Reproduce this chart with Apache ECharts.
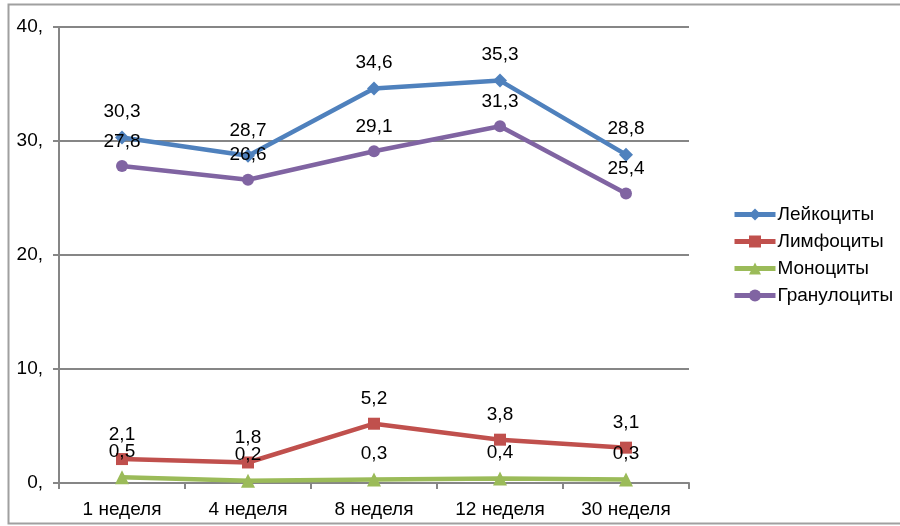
<!DOCTYPE html>
<html>
<head>
<meta charset="utf-8">
<style>
  html, body { margin: 0; padding: 0; background: #fff; }
  #chart { width: 900px; height: 526px; }
</style>
<script src="https://cdn.jsdelivr.net/npm/echarts@6/dist/echarts.min.js"></script>
</head>
<body>
<div id="chart"></div>
<script>
// Categories: weeks of observation
const categories = ['1 неделя', '4 неделя', '8 неделя', '12 неделя', '30 неделя'];

// Series values
const leukocytes = [30.3, 28.7, 34.6, 35.3, 28.8];
const lymphocytes = [2.1, 1.8, 5.2, 3.8, 3.1];
const monocytes = [0.5, 0.2, 0.3, 0.4, 0.3];
const granulocytes = [27.8, 26.6, 29.1, 31.3, 25.4];

// Series names
const seriesNames = ['Лейкоциты', 'Лимфоциты', 'Моноциты', 'Гранулоциты'];

// Y axis range
const yMin = 0, yMax = 40, yStep = 10;

const FONT = '"Liberation Sans", Arial, sans-serif';
const FS = 19;
const colors = ['#4F81BD', '#C0504D', '#9BBB59', '#8064A2'];
const symbols = ['diamond', 'rect', 'triangle', 'circle'];
const symbolSizes = [14, 12, 14, 12];
const dataSets = [leukocytes, lymphocytes, monocytes, granulocytes];

const fmt = v => String(v).replace('.', ',');

const chart = echarts.init(document.getElementById('chart'), null, { renderer: 'canvas' });

chart.setOption({
  animation: false,
  backgroundColor: '#fff',
  textStyle: { fontFamily: FONT },
  graphic: [{
    type: 'rect',
    shape: { x: 8.5, y: 4.5, width: 1000, height: 519 },
    style: { fill: 'none', stroke: '#a0a0a0', lineWidth: 2 },
    silent: true, z: -1
  }],
  grid: { left: 59, top: 27, width: 630, height: 456, containLabel: false },
  legend: {
    orient: 'vertical',
    left: 727,
    top: 200,
    itemGap: 8,
    itemWidth: 41,
    itemHeight: 15,
    lineStyle: { width: 5 },
    textStyle: { fontFamily: FONT, fontSize: FS, color: '#000', padding: [0, 0, 0, -3] },
    data: seriesNames
  },
  xAxis: {
    type: 'category',
    data: categories,
    boundaryGap: true,
    axisLine: { lineStyle: { color: '#868686', width: 2 } },
    axisTick: { show: true, alignWithLabel: false, length: 6, lineStyle: { color: '#868686', width: 2 } },
    axisLabel: { color: '#000', fontSize: FS, fontFamily: FONT, margin: 17 },
    splitLine: { show: false }
  },
  yAxis: {
    type: 'value',
    min: yMin, max: yMax, interval: yStep,
    axisLine: { show: true, lineStyle: { color: '#868686', width: 2 } },
    axisTick: { show: true, length: 6, lineStyle: { color: '#868686', width: 2 } },
    axisLabel: { color: '#000', fontSize: FS, fontFamily: FONT, margin: 16, formatter: v => v + ',' },
    splitLine: { show: true, lineStyle: { color: '#868686', width: 2 } }
  },
  series: seriesNames.map((name, i) => ({
    name,
    type: 'line',
    data: dataSets[i],
    color: colors[i],
    symbol: symbols[i],
    symbolSize: symbolSizes[i],
    showAllSymbol: true,
    lineStyle: { width: 4.5, color: colors[i] },
    itemStyle: { color: colors[i] },
    label: {
      show: true,
      position: 'top',
      distance: 9,
      color: '#000',
      fontSize: FS,
      fontFamily: FONT,
      formatter: p => fmt(p.value)
    },
    z: 3 + i
  }))
});
</script>
</body>
</html>
